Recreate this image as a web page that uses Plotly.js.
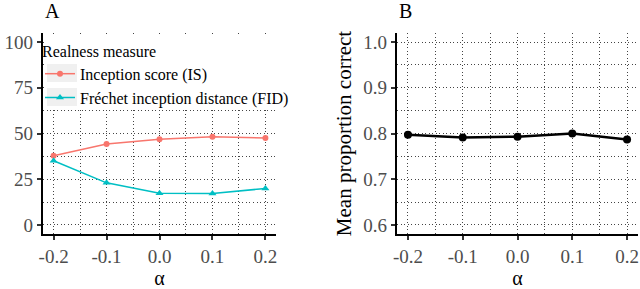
<!DOCTYPE html>
<html><head><meta charset="utf-8">
<script src="https://cdn.plot.ly/plotly-3.0.1.min.js"></script>
<style>html,body{margin:0;padding:0;background:#fff}#chart{width:640px;height:289px}</style>
</head><body><div id="chart"></div>
<script>
const alpha = [-0.2, -0.1, 0.0, 0.1, 0.2];
const alphaLabels = ["-0.2", "-0.1", "0.0", "0.1", "0.2"];
const isScore = [37.8, 44.2, 46.8, 48.2, 47.6];
const fidScore = [35.1, 23.0, 17.3, 17.2, 19.9];
const meanCorrect = [0.797, 0.791, 0.793, 0.8, 0.787];
const leftYTicks = [0, 25, 50, 75, 100];
const rightYTicks = [0.6, 0.7, 0.8, 0.9, 1.0];
const rightYLabels = ["0.6", "0.7", "0.8", "0.9", "1.0"];

const W = 640, H = 289;
const px = v => v / W, py = v => (H - v) / H;
const FONT = "'Liberation Serif', serif";
const gridDash = "1px,2.5px";

const xBase = {
  range: [-0.22, 0.22], tickvals: alpha, ticktext: alphaLabels,
  showline: true, linecolor: "#000", linewidth: 2.2, mirror: false,
  ticks: "outside", ticklen: 4, tickwidth: 2, tickcolor: "#333",
  tickfont: {family: FONT, size: 19, color: "#4d4d4d"},
  showgrid: true, gridcolor: "#444", gridwidth: 1, griddash: gridDash,
  minor: {dtick: 0.05, tick0: 0, showgrid: true, gridcolor: "#444", gridwidth: 1, griddash: gridDash, ticks: ""},
  zeroline: false, fixedrange: true,
  title: {text: "α", font: {family: FONT, size: 20, color: "#000"}, standoff: 14}
};
const yBase = {
  showline: true, linecolor: "#000", linewidth: 2.2,
  ticks: "outside", ticklen: 4, tickwidth: 2, tickcolor: "#333",
  tickfont: {family: FONT, size: 19, color: "#4d4d4d"},
  showgrid: true, gridcolor: "#444", gridwidth: 1, griddash: gridDash,
  zeroline: false, fixedrange: true
};

const traces = [
  {x: alpha, y: isScore, type: "scatter", mode: "lines+markers", name: "Inception score (IS)",
   line: {color: "#F8766D", width: 1.5}, marker: {symbol: "circle", size: 6, color: "#F8766D"}, xaxis: "x", yaxis: "y"},
  {x: alpha, y: fidScore, type: "scatter", mode: "lines+markers", name: "Fréchet inception distance (FID)",
   line: {color: "#00BFC4", width: 1.5}, marker: {symbol: "triangle-up", size: 7, color: "#00BFC4"}, xaxis: "x", yaxis: "y"},
  {x: alpha, y: meanCorrect, type: "scatter", mode: "lines+markers", name: "Mean",
   line: {color: "#000", width: 2.5}, marker: {symbol: "circle", size: 8, color: "#000"}, xaxis: "x2", yaxis: "y2", showlegend: false}
];

const layout = {
  width: W, height: H, margin: {l: 0, r: 0, t: 0, b: 0},
  paper_bgcolor: "#fff", plot_bgcolor: "#fff",
  font: {family: FONT, color: "#000"},
  xaxis: Object.assign({}, xBase, {domain: [px(43), px(276)], anchor: "y"}),
  xaxis2: Object.assign({}, xBase, {domain: [px(397), px(638)], anchor: "y2"}),
  yaxis: Object.assign({}, yBase, {domain: [py(234), py(33)], anchor: "x", range: [-5, 105], tickvals: leftYTicks,
    minor: {dtick: 12.5, tick0: 0, showgrid: true, gridcolor: "#444", gridwidth: 1, griddash: gridDash, ticks: ""}}),
  yaxis2: Object.assign({}, yBase, {domain: [py(234), py(33)], anchor: "x2", range: [0.58, 1.02], tickvals: rightYTicks, ticktext: rightYLabels,
    minor: {dtick: 0.05, tick0: 0, showgrid: true, gridcolor: "#444", gridwidth: 1, griddash: gridDash, ticks: ""},
    title: {text: "Mean proportion correct", font: {family: FONT, size: 21, color: "#000"}, standoff: 6}}),
  showlegend: true,
  legend: {x: px(40), y: py(36), xanchor: "left", yanchor: "top", bgcolor: "rgba(0,0,0,0)",
    font: {family: FONT, size: 16, color: "#000"}, itemwidth: 30, tracegroupgap: 0,
    title: {text: "Realness measure", font: {family: FONT, size: 16, color: "#000"}}},
  shapes: [
    {type: "rect", xref: "paper", yref: "paper", x0: px(44.5), x1: px(276), y0: py(108), y1: py(36), fillcolor: "#fff", line: {width: 0}, layer: "above"},
    {type: "rect", xref: "paper", yref: "paper", x0: px(47), x1: px(77), y0: py(82), y1: py(64), fillcolor: "#f0f0f0", line: {width: 0}, layer: "above"},
    {type: "rect", xref: "paper", yref: "paper", x0: px(47), x1: px(77), y0: py(106), y1: py(88), fillcolor: "#f0f0f0", line: {width: 0}, layer: "above"}
  ],
  annotations: [
    {text: "A", xref: "paper", yref: "paper", x: px(43), y: py(11), xanchor: "left", yanchor: "middle", showarrow: false, font: {family: FONT, size: 20, color: "#000"}},
    {text: "B", xref: "paper", yref: "paper", x: px(397), y: py(11), xanchor: "left", yanchor: "middle", showarrow: false, font: {family: FONT, size: 20, color: "#000"}}
  ]
};

Plotly.newPlot("chart", traces, layout, {displayModeBar: false, staticPlot: true});
</script></body></html>
